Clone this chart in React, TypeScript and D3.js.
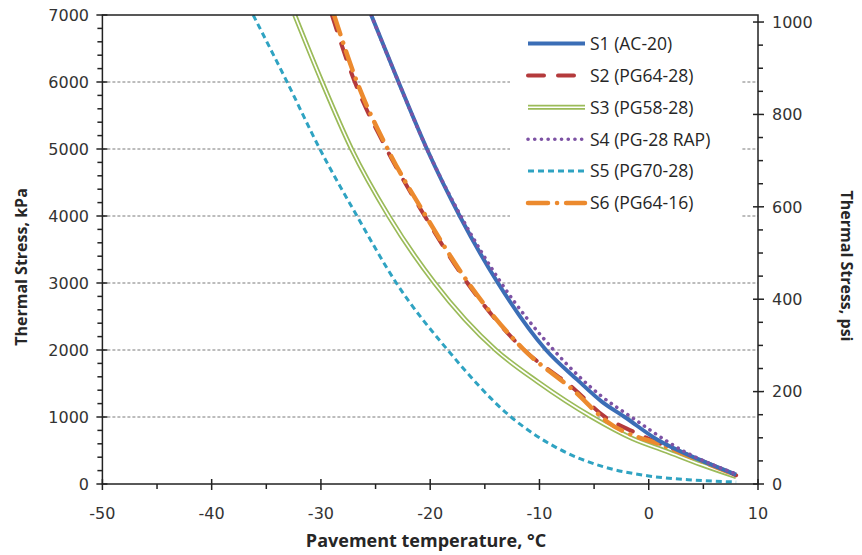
import React from "react";
import * as d3 from "d3";

const W = 862;
const H = 555;

// Data (temperature °C, thermal stress kPa)
const tempS1 = [-25.4, -22.9, -20.3, -17.3, -13.8, -9.4, -6.5, -4.3, -2.2, 0.8, 4.7, 8];
const stressS1 = [7000, 6000, 5000, 4000, 3000, 2000, 1550, 1230, 1000, 660, 360, 140];

const tempS2 = [-29.0, -26.9, -24.0, -20.5, -16.6, -11.4, -6.9, -4.0, -1.4, 4.7, 8];
const stressS2 = [7000, 6000, 5000, 4000, 3000, 2000, 1430, 1000, 780, 360, 130];

const tempS3 = [-32.4, -29.9, -27.2, -23.8, -19.6, -14.0, -10.2, -5.2, -1.5, 1.6, 4.8, 8];
const stressS3 = [7000, 6000, 5000, 4000, 3000, 2000, 1530, 1000, 680, 490, 290, 110];

const tempS4 = [-25.4, -22.9, -20.3, -17.2, -13.5, -8.7, -4.4, -1.6, 3.2, 8];
const stressS4 = [7000, 6000, 5000, 4000, 3000, 2000, 1320, 1000, 490, 150];

const tempS5 = [-36.2, -33.1, -30.1, -26.7, -23.1, -18.4, -12.6, -8.3, -4.4, 0, 4, 8];
const stressS5 = [7000, 6000, 5000, 4000, 3000, 2000, 1000, 530, 270, 120, 60, 30];

const tempS6 = [-28.8, -26.7, -23.9, -20.4, -16.5, -11.4, -6.9, -3.8, 1.6, 8];
const stressS6 = [7000, 6000, 5000, 4000, 3000, 2000, 1400, 930, 556, 130];

const seriesNames = ["S1 (AC-20)", "S2 (PG64-28)", "S3 (PG58-28)", "S4 (PG-28 RAP)", "S5 (PG70-28)", "S6 (PG64-16)"];

const xTicks = [-50, -40, -30, -20, -10, 0, 10];
const xMinorTicks = [-45, -35, -25, -15, -5, 5];
const yTicks = [0, 1000, 2000, 3000, 4000, 5000, 6000, 7000];
const yRightTicks = [0, 200, 400, 600, 800, 1000];

const KPA_PER_PSI = 6.895;

const left = 102.4;
const right = 758;
const top = 15;
const bottom = 484;

type Style = {
  color: string;
  width: number;
  dash?: string;
  cap?: "round" | "butt";
  double?: boolean;
};

const styles: Style[] = [
  { color: "#3b6eb6", width: 4 },
  { color: "#b43a3c", width: 4, dash: "16 14", cap: "round" },
  { color: "#9bbb59", width: 5, double: true },
  { color: "#7d52a4", width: 3.6, dash: "0.1 6.6", cap: "round" },
  { color: "#2fa3c2", width: 3, dash: "6 4" },
  { color: "#ec8a2e", width: 4.5, dash: "20 9 0.1 9", cap: "round" },
];

export default function App() {
  const x = d3.scaleLinear().domain([-50, 10]).range([left, right]);
  const y = d3.scaleLinear().domain([0, 7000]).range([bottom, top]);
  const yR = d3.scaleLinear().domain([0, 7000 / KPA_PER_PSI]).range([bottom, top]);

  const allSeries = [
    { t: tempS1, s: stressS1 },
    { t: tempS2, s: stressS2 },
    { t: tempS3, s: stressS3 },
    { t: tempS4, s: stressS4 },
    { t: tempS5, s: stressS5 },
    { t: tempS6, s: stressS6 },
  ];

  const line = d3
    .line<[number, number]>()
    .x((d) => x(d[0]))
    .y((d) => y(d[1]))
    .curve(d3.curveMonotoneX);

  const yMinor = d3.range(0, 7001, 200).filter((v) => v % 1000 !== 0);
  const yRMinor = d3.range(0, 1001, 50).filter((v) => v % 200 !== 0);

  const order = [2, 4, 1, 5, 0, 3];

  const legendX0 = 528;
  const legendX1 = 585;
  const legendY0 = 43.5;
  const legendStep = 31.9;

  const tickFont = "DejaVu Sans";
  const labelColor = "#333";

  return (
    <svg
      width={W}
      height={H}
      style={{ position: "absolute", left: 0, top: 0, background: "#fff" }}
    >
      <defs>
        <clipPath id="plotClip">
          <rect x={left} y={top} width={right - left} height={bottom - top} />
        </clipPath>
      </defs>
      <rect x={0} y={0} width={W} height={H} fill="#fff" />

      {/* gridlines */}
      {yTicks
        .filter((v) => v > 0 && v < 7000)
        .map((v) => (
          <line
            key={"g" + v}
            x1={left}
            x2={right}
            y1={y(v)}
            y2={y(v)}
            stroke="#7a7a7a"
            strokeWidth={1}
            strokeDasharray="3 2"
          />
        ))}

      {/* legend background */}
      <rect x={510} y={24} width={232} height={200} fill="#fff" />

      {/* series */}
      <g clipPath="url(#plotClip)">
        {order.map((i) => {
          const st = styles[i];
          const pts = allSeries[i].t.map((t, k) => [t, allSeries[i].s[k]] as [number, number]);
          const d = line(pts) || "";
          return (
            <g key={"s" + i}>
              <path
                d={d}
                fill="none"
                stroke={st.color}
                strokeWidth={st.width}
                strokeDasharray={st.dash}
                strokeLinecap={st.cap || "butt"}
              />
              {st.double && (
                <path d={d} fill="none" stroke="#fff" strokeWidth={1.6} />
              )}
            </g>
          );
        })}
      </g>

      {/* frame */}
      <rect x={left} y={top} width={right - left} height={bottom - top} fill="none" stroke="#222" strokeWidth={1.5} />

      {/* left axis ticks */}
      {yTicks.map((v) => (
        <line key={"yt" + v} x1={left - 6} x2={left + 5} y1={y(v)} y2={y(v)} stroke="#222" strokeWidth={1.5} />
      ))}
      {yMinor.map((v) => (
        <line key={"ym" + v} x1={left - 5} x2={left} y1={y(v)} y2={y(v)} stroke="#222" strokeWidth={1.5} />
      ))}
      {yTicks.map((v) => (
        <text
          key={"yl" + v}
          x={89}
          y={y(v)}
          dy="0.36em"
          textAnchor="end"
          fontFamily={tickFont}
          fontSize={16}
          fill={labelColor}
        >
          {v}
        </text>
      ))}

      {/* right axis ticks */}
      {yRightTicks.map((v) => (
        <line key={"rt" + v} x1={right - 5} x2={right + 6} y1={yR(v)} y2={yR(v)} stroke="#222" strokeWidth={1.5} />
      ))}
      {yRMinor.map((v) => (
        <line key={"rm" + v} x1={right} x2={right + 5} y1={yR(v)} y2={yR(v)} stroke="#222" strokeWidth={1.5} />
      ))}
      {yRightTicks.map((v) => (
        <text
          key={"rl" + v}
          x={772}
          y={yR(v)}
          dy="0.36em"
          textAnchor="start"
          fontFamily={tickFont}
          fontSize={16}
          fill={labelColor}
        >
          {v}
        </text>
      ))}

      {/* bottom axis ticks */}
      {xTicks.map((v) => (
        <line key={"xt" + v} x1={x(v)} x2={x(v)} y1={bottom - 5} y2={bottom + 6} stroke="#222" strokeWidth={1.5} />
      ))}
      {xMinorTicks.map((v) => (
        <line key={"xm" + v} x1={x(v)} x2={x(v)} y1={bottom} y2={bottom + 5} stroke="#222" strokeWidth={1.5} />
      ))}
      {xTicks.map((v) => (
        <text
          key={"xl" + v}
          x={x(v)}
          y={519}
          textAnchor="middle"
          fontFamily={tickFont}
          fontSize={16}
          fill={labelColor}
        >
          {v}
        </text>
      ))}

      {/* axis titles */}
      <text
        x={426}
        y={547}
        textAnchor="middle"
        fontFamily="Open Sans"
        fontWeight="bold"
        fontSize={18}
        fill="#262626"
      >
        Pavement temperature, °C
      </text>
      <text
        transform={`translate(27,267) rotate(-90)`}
        textAnchor="middle"
        fontFamily="Open Sans"
        fontWeight="bold"
        fontSize={16}
        fill="#262626"
      >
        Thermal Stress, kPa
      </text>
      <text
        transform={`translate(841,266) rotate(90)`}
        textAnchor="middle"
        fontFamily="Open Sans"
        fontWeight="bold"
        fontSize={16}
        fill="#262626"
      >
        Thermal Stress, psi
      </text>

      {/* legend */}
      {seriesNames.map((name, i) => {
        const st = styles[i];
        const ly = legendY0 + i * legendStep;
        return (
          <g key={"lg" + i}>
            <line
              x1={legendX0}
              x2={legendX1}
              y1={ly}
              y2={ly}
              stroke={st.color}
              strokeWidth={st.width}
              strokeDasharray={st.dash}
              strokeLinecap={st.cap || "butt"}
            />
            {st.double && (
              <line x1={legendX0} x2={legendX1} y1={ly} y2={ly} stroke="#fff" strokeWidth={1.6} />
            )}
            <text
              x={590}
              y={ly}
              dy="0.36em"
              fontFamily="Open Sans"
              fontSize={17.5}
              fill="#262626"
            >
              {name}
            </text>
          </g>
        );
      })}
    </svg>
  );
}
